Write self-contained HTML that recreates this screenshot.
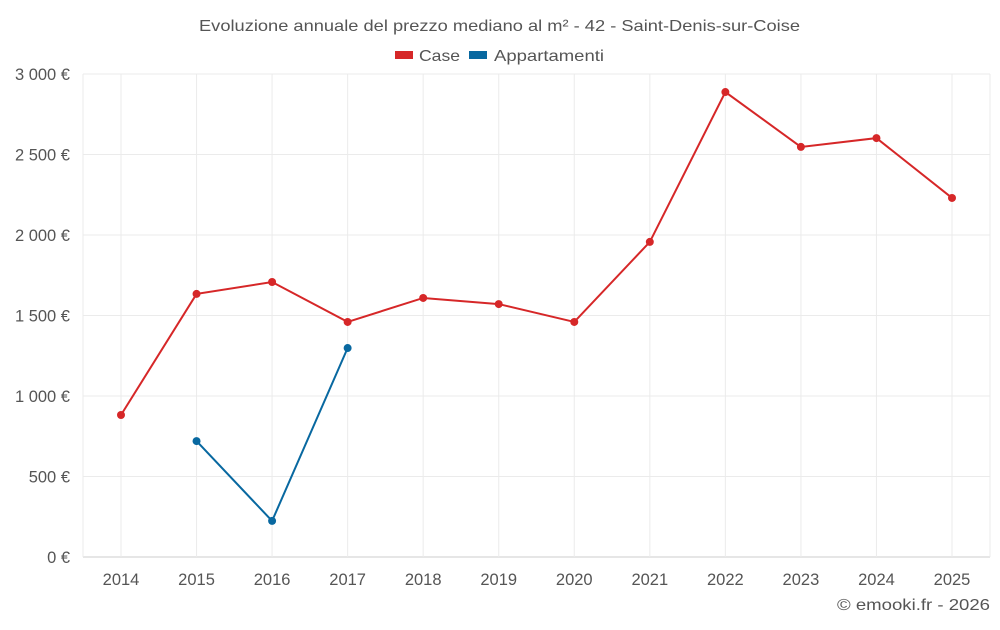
<!DOCTYPE html>
<html><head><meta charset="utf-8"><style>
body{margin:0;background:#fff;font-family:"Liberation Sans",sans-serif}
svg text{font-family:"Liberation Sans",sans-serif}
</style></head><body>
<svg id="c" width="1000" height="625">
<text x="199" y="31" textLength="601" lengthAdjust="spacingAndGlyphs" font-size="16" fill="#555">Evoluzione annuale del prezzo mediano al m² - 42 - Saint-Denis-sur-Coise</text>
<g>
<g><rect x="395" y="51" width="18" height="8" fill="#d62728"/><text x="419" y="61" textLength="41" lengthAdjust="spacingAndGlyphs" font-size="16" fill="#555">Case</text></g>
<g><rect x="469" y="51" width="18" height="8" fill="#0868a0"/><text x="494" y="61" textLength="110" lengthAdjust="spacingAndGlyphs" font-size="16" fill="#555">Appartamenti</text></g>
</g>
<g id="grid"></g><g id="axes"></g><g id="series"></g>
<text x="837" y="610" textLength="153" lengthAdjust="spacingAndGlyphs" font-size="16" fill="#555">© emooki.fr - 2026</text>
</svg>
<script>
const years=[2014,2015,2016,2017,2018,2019,2020,2021,2022,2023,2024,2025];
const caseVals=[882,1634,1708,1460,1609,1571,1460,1957,2888,2547,2602,2230];
const appVals=[null,720,224,1298,null,null,null,null,null,null,null,null];
const yTicks=[0,500,1000,1500,2000,2500,3000];
const yLabels=["0 €","500 €","1 000 €","1 500 €","2 000 €","2 500 €","3 000 €"];
const NS="http://www.w3.org/2000/svg";
const L=83,R=990,T=74,B=557;
const x=i=>121+i*(952-121)/(years.length-1);
const y=v=>B-(v/3000)*(B-T);
function mk(t,a,p){const e=document.createElementNS(NS,t);for(const k in a)e.setAttribute(k,a[k]);p.appendChild(e);return e;}
const g=document.getElementById('grid'),ax=document.getElementById('axes'),s=document.getElementById('series');
yTicks.forEach((v,i)=>{
 const l=mk('line',{x1:L,x2:R,y1:y(v),y2:y(v),stroke:i==0?'#ccc':'#ebebeb'},g);
 
 
 const t=mk('text',{x:70,y:y(v)+6,'text-anchor':'end','font-size':16.5,fill:'#555'},ax);t.textContent=yLabels[i];
 
 
});
[L,R].forEach(px=>{const l=mk('line',{x1:px,x2:px,y1:T,y2:B,stroke:'#ebebeb'},g);
 
 });
years.forEach((yr,i)=>{
 const l=mk('line',{x1:x(i),x2:x(i),y1:T,y2:B,stroke:'#ebebeb'},g);
 
 
 const t=mk('text',{x:x(i),y:585,'text-anchor':'middle','font-size':16.5,fill:'#555'},ax);t.textContent=yr;
 
 
});
function draw(vals,col,name){
 const pts=vals.map((v,i)=>v==null?null:[x(i),y(v)]).filter(p=>p);
 const pl=mk('polyline',{points:pts.map(p=>p.join(',')).join(' '),fill:'none',stroke:col,'stroke-width':2},s);
 
 
 pts.forEach(p=>{const c=mk('circle',{cx:p[0],cy:p[1],r:4,fill:col},s);
  
  });
}
draw(caseVals,'#d62728','case');
draw(appVals,'#0868a0','appartamenti');
</script>
</body></html>
